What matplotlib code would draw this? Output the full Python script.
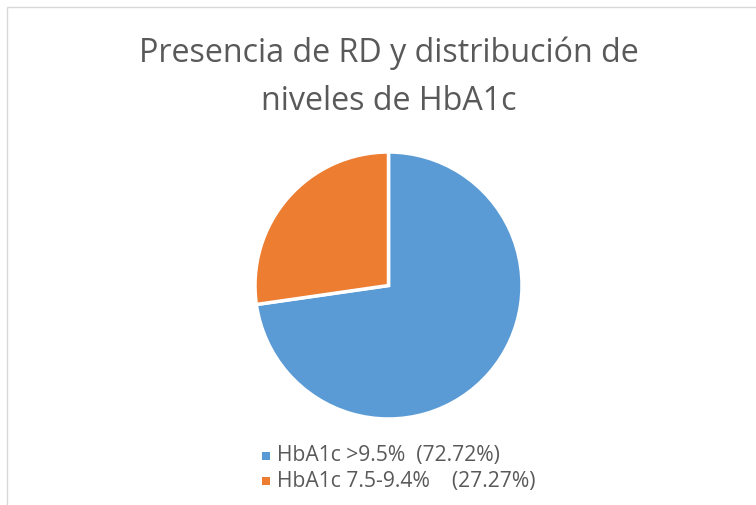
import matplotlib
matplotlib.use("Agg")
import matplotlib.pyplot as plt
from matplotlib.patches import Rectangle

title_lines = ["Presencia de RD y distribución de", "niveles de HbA1c"]
labels = ["HbA1c >9.5%  (72.72%)", "HbA1c 7.5-9.4%    (27.27%)"]
values = [72.72, 27.27]
colors = ["#5B9BD5", "#ED7D31"]

W, H = 756, 505
fig = plt.figure(figsize=(W / 100, H / 100), dpi=100)
fig.patch.set_facecolor("white")

def fx(px):
    return px / W

def fy(py):
    return 1 - py / H

# outer chart border (extends past the right and bottom edges)
fig.patches.append(Rectangle((fx(6.5), fy(540)), 800 / W, (540 - 6.5) / H,
                             transform=fig.transFigure, fill=False, edgecolor="#D9D9D9", linewidth=1.0))

cx, cy, r = 388.5, 285.5, 133.5
ax = fig.add_axes([fx(cx - r), fy(cy + r), fx(2 * r), (2 * r) / H])
ax.pie(values, colors=colors, startangle=90, counterclock=False,
       wedgeprops=dict(edgecolor="white", linewidth=2.5), radius=1.0)
ax.set_xlim(-1, 1)
ax.set_ylim(-1, 1)
ax.set_aspect("equal")
ax.axis("off")

fig.text(fx(389), fy(53), title_lines[0], ha="center", va="center", fontsize=23.2,
         family="Open Sans", color="#595959")
fig.text(fx(389), fy(101), title_lines[1], ha="center", va="center", fontsize=23.2,
         family="Open Sans", color="#595959")

ys = [456, 481]
for lab, col, y in zip(labels, colors, ys):
    fig.patches.append(Rectangle((fx(262), fy(y + 4)), 8 / W, 8 / H, transform=fig.transFigure,
                                 facecolor=col, edgecolor="none"))
    fig.text(fx(277), fy(y), lab, ha="left", va="center", fontsize=15.2,
             family="Open Sans", color="#595959")

fig.savefig("out.png", dpi=100, facecolor="white")
